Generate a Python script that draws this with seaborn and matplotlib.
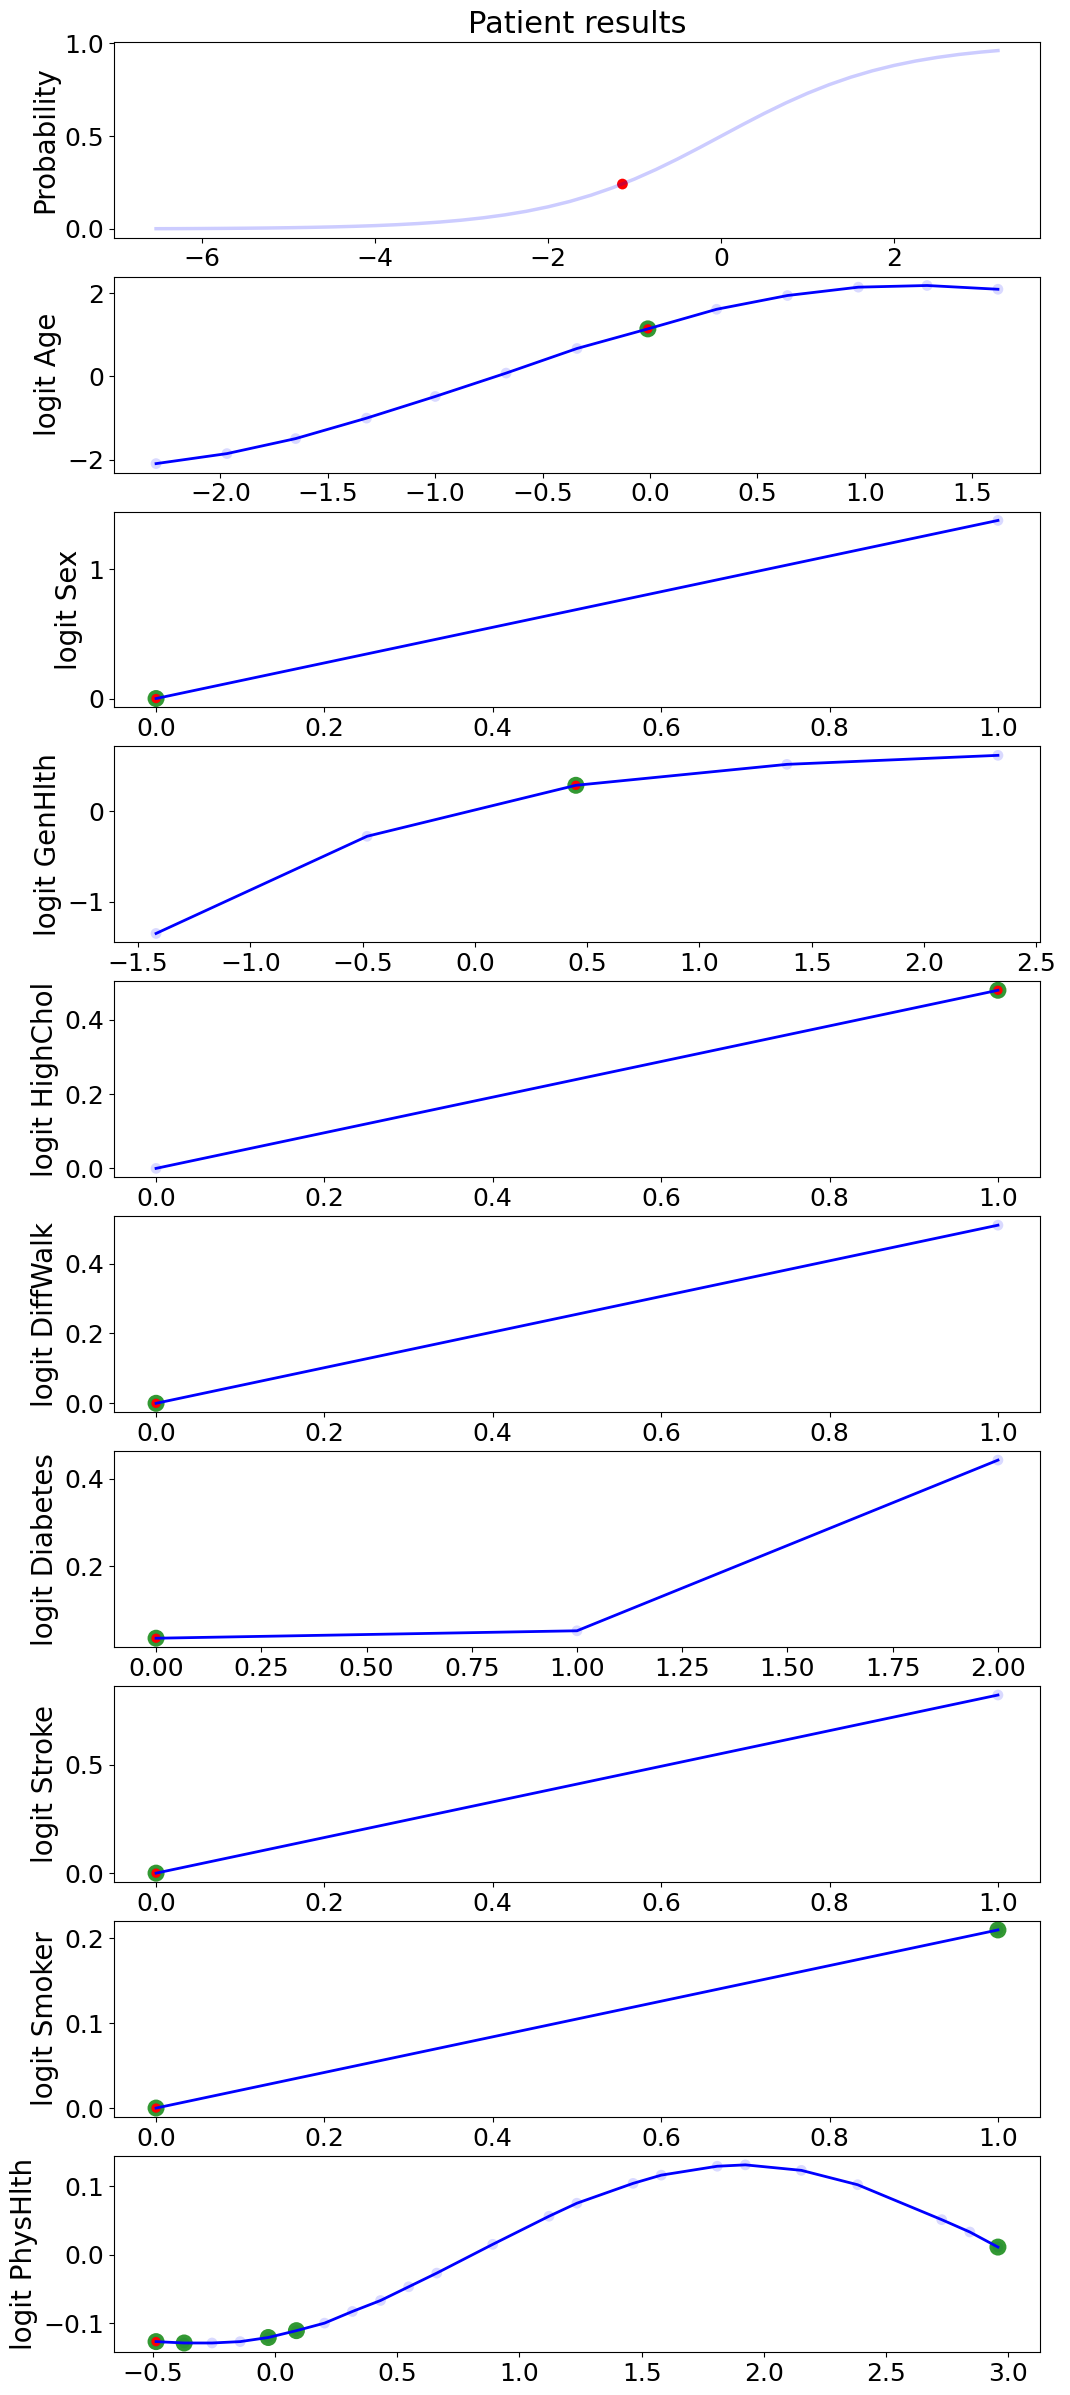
import numpy as np
import pandas as pd
import matplotlib
matplotlib.use('Agg')
import matplotlib.pyplot as plt
import seaborn as sns

# probability curve over the total logit
total_logit = [-6.53, -6.25, -6.0, -5.75, -5.5, -5.25, -5.0, -4.75, -4.5, -4.25, -4.0, -3.75,
               -3.5, -3.25, -3.0, -2.75, -2.5, -2.25, -2.0, -1.75, -1.5, -1.25, -1.0, -0.75,
               -0.5, -0.25, 0.0, 0.25, 0.5, 0.75, 1.0, 1.25, 1.5, 1.75, 2.0, 2.25, 2.5, 2.75,
               3.0, 3.2]
probability = [0.0015, 0.0019, 0.0025, 0.0032, 0.0041, 0.0052, 0.0067, 0.0086, 0.011, 0.0141,
               0.018, 0.023, 0.0293, 0.0373, 0.0474, 0.0601, 0.0759, 0.0953, 0.1192, 0.148,
               0.1824, 0.2227, 0.2689, 0.3208, 0.3775, 0.4378, 0.5, 0.5622, 0.6225, 0.6792,
               0.7311, 0.7773, 0.8176, 0.852, 0.8808, 0.9047, 0.9241, 0.9399, 0.9526, 0.9608]
patient_logit = -1.14
patient_prob = 0.242

# per-feature logit contributions (x = standardised feature value)
age_x = [-2.30, -1.97, -1.65, -1.32, -1.00, -0.67, -0.34, -0.01, 0.31, 0.64, 0.97, 1.29, 1.62]
age_logit = [-2.09, -1.85, -1.49, -1.00, -0.48, 0.08, 0.67, 1.14, 1.61, 1.94, 2.14, 2.18, 2.09]

sex_x = [0.0, 1.0]
sex_logit = [0.0, 1.38]

genhlth_x = [-1.42, -0.48, 0.45, 1.39, 2.33]
genhlth_logit = [-1.354, -0.277, 0.288, 0.520, 0.620]

highchol_x = [0.0, 1.0]
highchol_logit = [0.0, 0.48]

diffwalk_x = [0.0, 1.0]
diffwalk_logit = [0.0, 0.51]

diabetes_x = [0.0, 1.0, 2.0]
diabetes_logit = [0.036, 0.053, 0.443]

stroke_x = [0.0, 1.0]
stroke_logit = [0.0, 0.82]

smoker_x = [0.0, 1.0]
smoker_logit = [0.0, 0.21]

physhlth_x = [-0.486, -0.371, -0.257, -0.142, -0.027, 0.088, 0.203, 0.317, 0.432, 0.547, 0.662,
              0.891, 1.121, 1.235, 1.465, 1.580, 1.809, 1.924, 2.153, 2.383, 2.727, 2.842, 2.957]
physhlth_logit = [-0.127, -0.129, -0.129, -0.127, -0.121, -0.111, -0.100, -0.083, -0.067, -0.047, -0.027,
                  0.015, 0.056, 0.075, 0.104, 0.116, 0.129, 0.131, 0.123, 0.102, 0.051, 0.033, 0.011]

features = ['Age', 'Sex', 'GenHlth', 'HighChol', 'DiffWalk', 'Diabetes', 'Stroke', 'Smoker', 'PhysHlth']
feature_x = [age_x, sex_x, genhlth_x, highchol_x, diffwalk_x, diabetes_x, stroke_x, smoker_x, physhlth_x]
feature_logit = [age_logit, sex_logit, genhlth_logit, highchol_logit, diffwalk_logit,
                 diabetes_logit, stroke_logit, smoker_logit, physhlth_logit]
# green = similar patients, red = this patient
similar_idx = [[7], [0], [2], [1], [0], [0], [0], [0, 1], [0, 1, 4, 5, 22]]
patient_idx = [7, 0, 2, 1, 0, 0, 0, 0, 0]

fig, axes = plt.subplots(10, 1, figsize=(10.7, 23.95), dpi=100)
plt.subplots_adjust(left=0.1065, right=0.972, top=0.9826, bottom=0.018, hspace=0.199)

TICK = 18
LABEL = 20

ax = axes[0]
curve = pd.DataFrame({'logit': total_logit, 'prob': probability})
sns.lineplot(data=curve, x='logit', y='prob', color='blue', alpha=0.2, linewidth=2.5, ax=ax, sort=False)
sns.scatterplot(x=[patient_logit], y=[patient_prob], color='red', s=60, edgecolor='none', ax=ax)
ax.set_title('Patient results', fontsize=22)
ax.set_ylabel('Probability', fontsize=LABEL)
ax.set_xlabel('')
ax.tick_params(labelsize=TICK)

for i, name in enumerate(features):
    ax = axes[i + 1]
    df = pd.DataFrame({'x': feature_x[i], 'logit': feature_logit[i]})
    sns.scatterplot(data=df, x='x', y='logit', color='blue', alpha=0.15, s=60, edgecolor='none', ax=ax)
    sim = df.iloc[similar_idx[i]]
    sns.scatterplot(data=sim, x='x', y='logit', color='green', alpha=0.8, s=150, edgecolor='none', ax=ax)
    pat = df.iloc[[patient_idx[i]]]
    sns.scatterplot(data=pat, x='x', y='logit', color='red', s=45, edgecolor='none', ax=ax)
    sns.lineplot(data=df, x='x', y='logit', color='blue', linewidth=2, ax=ax, sort=False)
    ax.set_ylabel(f'logit {name}', fontsize=LABEL)
    ax.set_xlabel('')
    ax.tick_params(labelsize=TICK)

plt.savefig('out.png', dpi=100)
